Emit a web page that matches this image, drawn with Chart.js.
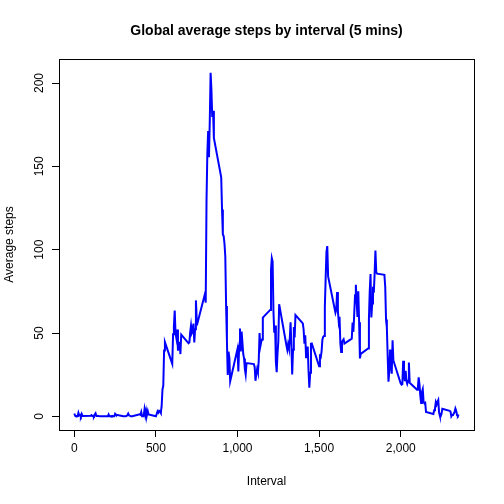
<!DOCTYPE html>
<html>
<head>
<script src="https://cdn.jsdelivr.net/npm/chart.js@4"></script>
<style>body{margin:0;background:#fff}canvas{display:block}</style>
</head>
<body>
<canvas id="c" width="504" height="504"></canvas>
<script>
const hours = [];
for (let h = 0; h < 24; h++) for (let m = 0; m < 60; m += 5) hours.push(h * 100 + m);
const intervals = hours;
const avgSteps = [
  1.72,0.34,0.13,0.15,0.08,2.09,0.53,0.87,0,1.47,0.30,0.13,
  0.32,0.68,0.15,0.34,0,1.11,1.83,0.17,0.17,0.38,0.26,0,
  0,0,1.13,0,0,0.13,0,0.23,0,0,1.55,0.94,
  0,0,0,0,0.21,0.62,1.62,0.58,0.49,0.08,0,0,
  1.19,0.94,2.57,0,0.34,0.36,4.11,0.66,3.49,0.83,3.11,1.11,
  0,1.57,3.0,2.25,3.32,2.96,2.09,6.06,16.02,18.34,39.45,44.49,
  31.49,49.26,53.77,63.45,49.96,47.08,52.15,39.34,44.02,44.17,37.36,49.04,
  43.81,44.38,50.51,54.51,49.92,50.98,55.68,44.32,52.26,69.55,57.85,56.15,
  73.38,68.21,129.43,157.53,171.15,155.40,177.30,206.17,195.92,179.57,183.40,167.02,
  143.45,124.04,109.11,108.11,103.72,95.97,66.21,45.23,24.79,38.75,34.98,21.06,
  40.57,26.98,42.42,52.66,38.92,50.79,44.28,37.42,34.70,28.34,25.09,31.94,
  31.36,29.68,21.32,25.55,28.38,26.47,33.43,49.98,42.04,44.60,46.04,59.19,
  63.87,87.70,94.85,92.77,63.40,50.17,54.47,32.42,26.53,37.74,45.06,67.28,
  42.34,39.88,43.26,40.98,46.25,56.43,42.75,25.13,39.96,53.55,47.32,60.81,
  55.75,51.96,43.58,48.70,35.47,37.55,41.85,27.51,17.11,26.08,43.62,43.77,
  30.02,36.08,35.49,38.85,45.96,47.75,48.13,65.32,82.91,98.66,102.11,83.96,
  62.13,64.13,74.55,63.17,56.91,59.77,43.87,38.57,44.66,45.45,46.21,43.68,
  46.62,56.30,50.72,61.23,72.72,78.94,68.94,59.66,75.09,56.51,34.77,37.45,
  40.68,58.02,74.70,85.32,59.26,67.77,77.70,74.25,85.34,99.45,86.58,85.60,
  84.87,77.83,58.04,53.36,36.32,20.72,27.40,40.02,30.21,25.55,45.66,33.53,
  19.62,19.02,19.34,33.34,26.81,21.17,27.30,21.34,19.55,21.32,32.30,20.15,
  15.94,17.23,23.45,19.25,12.45,8.02,14.66,16.30,8.68,7.79,8.13,2.62,
  1.45,3.68,4.81,8.51,7.08,8.70,9.75,2.21,0.32,0.11,1.60,4.60,
  3.30,2.85,0,0.83,0.96,1.58,2.60,4.70,3.30,0.64,0.23,1.08
];
const xTicks = [0, 500, 1000, 1500, 2000];
const yTicks = [0, 50, 100, 150, 200];

const font = '"Liberation Sans", Arial, sans-serif';

const rStyle = {
  id: "rStyle",
  afterDraw(chart) {
    const { ctx, chartArea: a, scales } = chart;
    ctx.save();
    ctx.strokeStyle = "#000";
    ctx.lineWidth = 1;
    ctx.strokeRect(a.left + 0.5, a.top + 0.5, a.right - a.left, a.bottom - a.top);
    ctx.fillStyle = "#000";
    ctx.font = "bold 14px " + font;
    ctx.textAlign = "center";
    ctx.textBaseline = "middle";
    ctx.fillText("Global average steps by interval (5 mins)", (a.left + a.right) / 2, 31);
    ctx.font = "12px " + font;
    ctx.fillText("Interval", (a.left + a.right) / 2, 482);
    ctx.save();
    ctx.translate(10, (a.top + a.bottom) / 2);
    ctx.rotate(-Math.PI / 2);
    ctx.fillText("Average steps", 0, 0);
    ctx.restore();
    yTicks.forEach((v) => {
      const y = scales.y.getPixelForValue(v);
      ctx.save();
      ctx.translate(a.left - 19, y);
      ctx.rotate(-Math.PI / 2);
      ctx.fillText(String(v), 0, 0);
      ctx.restore();
    });
    ctx.restore();
  },
};

new Chart(document.getElementById("c"), {
  type: "line",
  data: {
    datasets: [{
      data: intervals.map((x, i) => ({ x, y: avgSteps[i] })),
      borderColor: "#0000ff",
      borderWidth: 2,
      pointRadius: 0,
      tension: 0,
      fill: false,
    }],
  },
  options: {
    responsive: false,
    animation: false,
    layout: { padding: { top: 59, right: 30, left: 0, bottom: 0 } },
    plugins: { legend: { display: false }, tooltip: { enabled: false } },
    scales: {
      x: {
        type: "linear",
        min: -94,
        max: 2449,
        afterFit: (s) => { s.height = 74; },
        afterBuildTicks: (s) => { s.ticks = xTicks.map((v) => ({ value: v })); },
        border: { display: false },
        grid: { drawOnChartArea: false, tickLength: 7, color: "#000" },
        ticks: { color: "#000", font: { family: font, size: 12 }, padding: 4, maxRotation: 0 },
      },
      y: {
        min: -8.2,
        max: 214.4,
        afterFit: (s) => { s.width = 59; },
        afterBuildTicks: (s) => { s.ticks = yTicks.map((v) => ({ value: v })); },
        border: { display: false },
        grid: { drawOnChartArea: false, tickLength: 7, color: "#000" },
        ticks: { display: false },
      },
    },
  },
  plugins: [rStyle],
});
</script>
</body>
</html>
